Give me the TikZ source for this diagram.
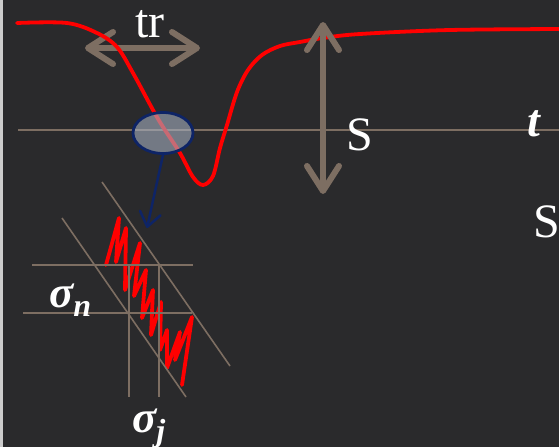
\documentclass[tikz,border=0pt]{standalone}
\usepackage{fontspec}
\setmainfont{Liberation Serif}
\usetikzlibrary{arrows.meta,shapes.geometric}
\definecolor{board}{RGB}{42,42,44}
\definecolor{taupe}{RGB}{125,110,98}
\definecolor{navy}{RGB}{14,36,102}
\definecolor{lensfill}{RGB}{165,175,192}
\newcommand{\lowidx}[1]{\raisebox{-0.2em}{\fontsize{32}{34}\selectfont #1}}
\tikzset{
  axisline/.style={
    draw = taupe,
    line width = 2pt
  },
  gridline/.style={
    draw = taupe,
    line width = 1.6pt
  },
  bigarrow/.style={
    draw = taupe,
    line width = 6pt,
    arrows = {Straight Barb[round,length=25pt,width=32pt]-Straight Barb[round,length=25pt,width=32pt]}
  },
  pointer/.style={
    draw = navy,
    line width = 2.5pt,
    arrows = {-Straight Barb[round,length=14pt,width=21pt]}
  },
  lens/.style={
    shape = ellipse,
    draw = navy,
    line width = 2.8pt,
    fill = lensfill,
    fill opacity = 0.6,
    minimum width = 60pt,
    minimum height = 41pt,
    inner sep = 0pt
  },
  signal/.style={
    draw = red,
    line width = 3.8pt,
    line cap = round
  },
  boardtext/.style={
    text = white,
    inner sep = 0pt,
    anchor = base west,
    font = \fontsize{48}{52}\selectfont
  },
  boardsym/.style={
    boardtext,
    font = \fontsize{45}{48}\selectfont\bfseries\itshape
  }
}
\begin{document}
\begin{tikzpicture}[x=1pt,y=-1pt]
  \clip (0,0) rectangle (559,447);
  \fill[board] (0,0) rectangle (559,447);
  \fill[black!20] (0,0) rectangle (3,447);
  % time axis
  \coordinate (axw) at (18,130);
  \coordinate (axe) at (565,130);
  \draw[axisline] (axw) -- (axe);
  % rise time
  \coordinate (trL) at (85,48);
  \coordinate (trR) at (200,48);
  \draw[bigarrow] (trL) -- (trR);
  \node[boardtext] (trlab) at (135,37) {tr};
  \draw[signal] plot[smooth, tension=0.55] coordinates {
    (17,23) (67,23) (97,33) (117,47) (133,73) (153,110) (163,127)
    (180,153) (193,177) (203,185) (213,176) (220,148) (227,125)
    (237,92) (248,70) (262,55) (280,46) (300,42) (323,38) (360,34)
    (450,30) (565,29)};
  % amplitude
  \coordinate (sTop) at (323,22);
  \coordinate (sBot) at (323,194);
  \draw[bigarrow] (sTop) -- (sBot);
  \node[boardtext] (slab) at (346,150) {S};
  \node[boardsym, font=\fontsize{46}{50}\selectfont\bfseries\itshape] (tlab) at (527,136) {t};
  \node[boardtext] (slab2) at (533,237) {S};
  % zoomed window
  \node[lens] (lens) at (163,133) {};
  \coordinate (dive) at (147,228);
  \draw[pointer] (lens.south) -- (dive);
  \draw[red, line width=3.8pt, line join=round, line cap=round]
    (106,265) -- (119,218) -- (116,262) -- (126,228)
    -- (125,290) -- (140,243) -- (134,296) -- (146,270) -- (142,318)
    -- (153,290) -- (151,335) -- (161,302) -- (160,350) -- (167,330)
    -- (167,368) -- (180,332) -- (175,360) -- (192,317) -- (182,385);
  \draw[gridline] (62,218) -- (186,397);
  \draw[gridline] (102,182) -- (230,366);
  \draw[gridline] (32,265) -- (193,265);
  \draw[gridline] (23,313) -- (192,313);
  \foreach \x in {129,159}{
    \draw[gridline] (\x,265) -- (\x,397);
  }
  \node[boardsym] (snlab) at (49,307) {σ\lowidx{n}};
  \node[boardsym] (sjlab) at (132,432) {σ\lowidx{j}};
\end{tikzpicture}
\end{document}
